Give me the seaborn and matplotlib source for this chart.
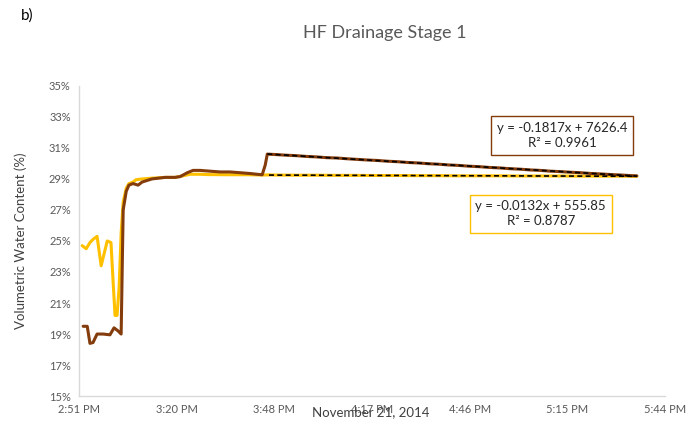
import numpy as np
import pandas as pd
import matplotlib
matplotlib.use("Agg")
import matplotlib.pyplot as plt
import seaborn as sns

# time in minutes after 2:51 PM, values in %
brown_t = [1.2, 2.4, 3.2, 4.1, 5.3, 7.1, 9.1, 10.3, 11.5, 12.4, 13.0, 13.9, 14.7, 15.9,
           17.4, 18.6, 21.5, 25.4, 28.3, 29.8, 31.9, 33.6, 35.7, 38.6, 41.6, 44.5, 47.5,
           50.4, 52.5, 54.0, 54.9, 55.5,
           58, 61, 64, 67, 70, 73, 76, 79, 82, 85, 88, 91, 94, 97, 100, 103, 106, 109,
           112, 115, 118, 121, 124, 127, 130, 133, 136, 139, 142, 145, 148, 151, 154,
           157, 160, 163, 164.5]
brown_v = [19.5, 19.5, 18.4, 18.45, 19.0, 19.0, 18.95, 19.4, 19.2, 19.0, 27.0, 28.2, 28.6, 28.7,
           28.6, 28.8, 29.0, 29.1, 29.1, 29.15, 29.4, 29.55, 29.55, 29.5, 29.45, 29.45, 29.4,
           29.35, 29.3, 29.27, 29.9, 30.6,
           30.57, 30.53, 30.50, 30.45, 30.42, 30.37, 30.35, 30.30, 30.26, 30.22, 30.19,
           30.14, 30.11, 30.06, 30.03, 29.98, 29.95, 29.90, 29.87, 29.82, 29.79, 29.74,
           29.71, 29.66, 29.63, 29.58, 29.55, 29.50, 29.47, 29.43, 29.40, 29.35, 29.32,
           29.28, 29.25, 29.21, 29.20]

yellow_t = [0.9, 2.1, 3.2, 4.1, 5.3, 6.5, 7.4, 8.3, 9.4, 10.0, 10.6, 11.2, 11.8, 12.4,
            13.0, 13.9, 14.7, 15.9, 16.8, 18.6, 21.5, 25.4, 28.3, 30.7, 32.7, 35.7,
            38, 44, 50, 54, 56, 58, 64, 70, 76, 82, 88, 94, 100, 106, 112, 118, 124,
            130, 136, 142, 148, 154, 160, 164.5]
yellow_v = [24.7, 24.5, 24.9, 25.1, 25.3, 23.4, 24.2, 25.0, 24.9, 22.5, 20.2, 20.2, 22.0, 25.5,
            27.5, 28.4, 28.7, 28.8, 28.95, 29.0, 29.05, 29.1, 29.1, 29.2, 29.3, 29.3,
            29.28, 29.27, 29.27, 29.25, 29.26, 29.25, 29.24, 29.24, 29.23, 29.23, 29.22,
            29.22, 29.21, 29.21, 29.20, 29.20, 29.20, 29.19, 29.19, 29.19, 29.18, 29.18,
            29.18, 29.17]

tick_labels = ["2:51 PM", "3:20 PM", "3:48 PM", "4:17 PM", "4:46 PM", "5:15 PM", "5:44 PM"]
y_ticks = [15, 17, 19, 21, 23, 25, 27, 29, 31, 33, 35]
fit_start = 55.5

brown_eq = "y = -0.1817x + 7626.4\nR\u00b2 = 0.9961"
yellow_eq = "y = -0.0132x + 555.85\nR\u00b2 = 0.8787"

BROWN = "#843C0C"
YELLOW = "#FFC000"
GREY = "#595959"

sns.set_theme(style="white")
plt.rcParams['font.family'] = ['Lato', 'DejaVu Sans']

brown = pd.DataFrame({'t': brown_t, 'v': brown_v})
yellow = pd.DataFrame({'t': yellow_t, 'v': yellow_v})

fig = plt.figure(figsize=(7, 4.25), dpi=100)
ax = fig.add_axes([0.113, 0.068, 0.837, 0.73])

sns.lineplot(data=yellow, x='t', y='v', color=YELLOW, linewidth=2.2, ax=ax)
sns.lineplot(data=brown, x='t', y='v', color=BROWN, linewidth=2.2, ax=ax)

# linear trendlines over the drainage part
for d in (brown, yellow):
    sns.regplot(data=d[d['t'] >= fit_start], x='t', y='v', scatter=False, ci=None,
                line_kws=dict(color='black', linewidth=1.2, linestyle=(0, (3, 2))), ax=ax)

ax.set_xlim(0, 172.8)
ax.set_xticks([28.8 * i for i in range(len(tick_labels))])
ax.set_xticklabels(tick_labels)
ax.set_ylim(15, 35)
ax.set_yticks(y_ticks)
ax.set_yticklabels([f"{v}%" for v in y_ticks])
ax.tick_params(axis='both', labelsize=8, colors=GREY, length=0, pad=6)
ax.set_xlabel("")
ax.set_ylabel("Volumetric Water Content (%)", fontsize=9.5, color='#404040', labelpad=16)

for s in ('top', 'right'):
    ax.spines[s].set_visible(False)
for s in ('left', 'bottom'):
    ax.spines[s].set_color('#D9D9D9')
    ax.spines[s].set_linewidth(1)

ax.text(0.497, -0.052, "November 21, 2014", transform=ax.transAxes, ha='center', va='center',
        fontsize=9.5, color='#404040')

ax.text(0.824, 0.839, brown_eq, transform=ax.transAxes, ha='center', va='center',
        fontsize=9.5, color='#262626', linespacing=1.3,
        bbox=dict(boxstyle='square,pad=0.45', facecolor='white', edgecolor=BROWN, linewidth=1))
ax.text(0.788, 0.587, yellow_eq, transform=ax.transAxes, ha='center', va='center',
        fontsize=9.5, color='#262626', linespacing=1.3,
        bbox=dict(boxstyle='square,pad=0.45', facecolor='white', edgecolor=YELLOW, linewidth=1))

fig.text(0.55, 0.922, "HF Drainage Stage 1", ha='center', va='center', fontsize=13, color=GREY)
fig.text(0.03, 0.963, "b)", ha='left', va='center', fontsize=11, color='black')

fig.savefig("out.png", dpi=100)
